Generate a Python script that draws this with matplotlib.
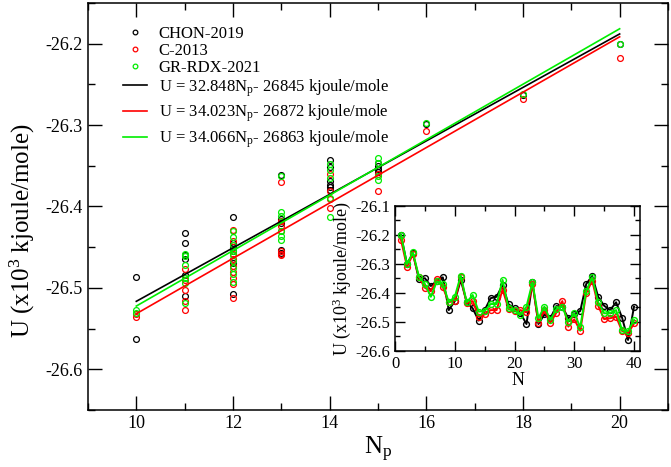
import matplotlib
matplotlib.use("Agg")
import matplotlib.pyplot as plt
from matplotlib.ticker import MultipleLocator, FormatStrFormatter

plt.rcParams["font.family"] = ["Liberation Serif", "DejaVu Serif"]
plt.rcParams["mathtext.fontset"] = "custom"
plt.rcParams["mathtext.rm"] = "Liberation Serif"
plt.rcParams["mathtext.it"] = "Liberation Serif:italic"
plt.rcParams["axes.unicode_minus"] = False

# main panel: energies (x10^3 kJ/mol) vs number of particles Np
chon_np = [10, 10, 11, 11, 11, 11, 11, 11, 12, 12, 12, 12, 12, 12,
           13, 13, 13, 13, 13, 14, 14, 14, 14, 14, 14,
           15, 15, 15, 15, 16, 18, 20]
chon_u = [-26.487, -26.563, -26.433, -26.445, -26.459, -26.464, -26.484, -26.510,
          -26.413, -26.445, -26.450, -26.455, -26.470, -26.507,
          -26.361, -26.415, -26.420, -26.453, -26.457,
          -26.343, -26.352, -26.369, -26.373, -26.376, -26.380,
          -26.346, -26.350, -26.354, -26.358, -26.299, -26.263, -26.200]

c2013_np = [10, 10, 11, 11, 11, 11, 11, 12, 12, 12, 12, 12, 12, 12, 12, 12,
            13, 13, 13, 13, 13, 13, 13, 14, 14, 14, 14, 15, 15, 16, 18, 20]
c2013_u = [-26.532, -26.536, -26.477, -26.490, -26.502, -26.516, -26.527,
           -26.429, -26.442, -26.458, -26.465, -26.473, -26.480, -26.488, -26.495, -26.512,
           -26.370, -26.418, -26.424, -26.430, -26.455, -26.458, -26.460,
           -26.360, -26.381, -26.391, -26.402, -26.360, -26.381,
           -26.307, -26.268, -26.218]

grrdx_np = [10, 10, 11, 11, 11, 11, 11, 11, 12, 12, 12, 12, 12, 12, 12, 12, 12,
            13, 13, 13, 13, 13, 13, 14, 14, 14, 14, 14, 15, 15, 15, 15, 16, 18, 20]
grrdx_u = [-26.527, -26.531, -26.458, -26.461, -26.472, -26.488, -26.494, -26.519,
           -26.430, -26.438, -26.447, -26.455, -26.460, -26.467, -26.475, -26.483, -26.493,
           -26.362, -26.407, -26.412, -26.430, -26.436, -26.441,
           -26.348, -26.355, -26.365, -26.389, -26.413,
           -26.341, -26.346, -26.362, -26.368, -26.297, -26.262, -26.200]

# linear fits U = slope*Np + intercept (kJ/mol)
fit_slope = [32.848, 34.023, 34.066]
fit_intercept = [-26845, -26872, -26863]
fit_range = [10, 20]

# inset: energy of each configuration N = 1..40
inset_n = list(range(1, 41))
inset_chon = [-26.200, -26.300, -26.263, -26.353, -26.349, -26.376, -26.358, -26.346,
              -26.459, -26.428, -26.355, -26.432, -26.453, -26.495, -26.459, -26.418,
              -26.413, -26.372, -26.439, -26.453, -26.470, -26.507, -26.363, -26.507,
              -26.474, -26.487, -26.445, -26.447, -26.487, -26.474, -26.462, -26.369,
              -26.341, -26.413, -26.444, -26.459, -26.432, -26.485, -26.562, -26.447]
inset_c2013 = [-26.217, -26.309, -26.267, -26.346, -26.382, -26.394, -26.352, -26.380,
               -26.432, -26.426, -26.345, -26.436, -26.428, -26.482, -26.474, -26.459,
               -26.459, -26.388, -26.455, -26.462, -26.459, -26.467, -26.369, -26.502,
               -26.459, -26.502, -26.468, -26.428, -26.516, -26.491, -26.530, -26.401,
               -26.357, -26.444, -26.490, -26.487, -26.482, -26.531, -26.539, -26.505]
inset_grrdx = [-26.200, -26.301, -26.260, -26.344, -26.369, -26.413, -26.360, -26.368,
               -26.432, -26.413, -26.340, -26.432, -26.407, -26.464, -26.462, -26.438,
               -26.438, -26.355, -26.453, -26.459, -26.476, -26.447, -26.363, -26.487,
               -26.447, -26.493, -26.455, -26.447, -26.499, -26.470, -26.518, -26.393,
               -26.346, -26.432, -26.470, -26.470, -26.459, -26.529, -26.531, -26.493]

labels = ["CHON-2019", "C-2013", "GR-RDX-2021"]
colors = ["black", "#ff0000", "#00ee00"]


def style_axes(ax, major, ticklen):
    ax.tick_params(which="both", direction="in", top=True, right=True,
                   labelsize=major, width=1.0)
    ax.tick_params(which="major", length=ticklen)
    ax.tick_params(which="minor", length=ticklen / 2)
    for s in ax.spines.values():
        s.set_linewidth(1.1)


fig = plt.figure(figsize=(6.71, 4.67), dpi=100)
ax = fig.add_axes([0.1311, 0.1221, 0.8644, 0.8715])

series = [(chon_np, chon_u), (c2013_np, c2013_u), (grrdx_np, grrdx_u)]
pts = []
for (xs, ys), lab, col in zip(series, labels, colors):
    p, = ax.plot(xs, ys, "o", ls="none", mfc="none", mec=col, ms=4.2, mew=0.9, label=lab)
    pts.append(p)

fits = []
for a, b, col in zip(fit_slope, fit_intercept, colors):
    xs = fit_range
    ys = [(a * x + b) / 1000.0 for x in xs]
    l, = ax.plot(xs, ys, "-", color=col, lw=1.2,
                 label=r"U = %.3fN$_{\mathrm{p}}$- %d kjoule/mole" % (a, -b))
    fits.append(l)

ax.set_xlim(9, 21)
ax.set_ylim(-26.65, -26.15)
ax.xaxis.set_major_locator(MultipleLocator(2))
ax.xaxis.set_minor_locator(MultipleLocator(1))
ax.yaxis.set_major_locator(MultipleLocator(0.1))
ax.yaxis.set_minor_locator(MultipleLocator(0.05))
ax.yaxis.set_major_formatter(FormatStrFormatter("%.1f"))
style_axes(ax, 13, 10)
ax.set_xlabel(r"N$_{\mathrm{p}}$", fontsize=18, labelpad=2)
ax.set_ylabel(r"U (x10$^{\mathrm{3}}$ kjoule/mole)", fontsize=18, labelpad=4)
ax.yaxis.set_label_coords(-0.088, 0.44)

leg1 = ax.legend(pts, labels, loc="upper left", bbox_to_anchor=(0.060, 0.943),
                 frameon=False, fontsize=12, handlelength=1.45, handletextpad=0.7,
                 labelspacing=0.05, borderaxespad=0, borderpad=0, markerscale=0.8)
ax.add_artist(leg1)
ax.legend(fits, [f.get_label() for f in fits], loc="upper left",
          bbox_to_anchor=(0.060, 0.818), frameon=False, fontsize=12,
          handlelength=1.45, handletextpad=0.7, labelspacing=0.25,
          borderaxespad=0, borderpad=0)

# inset
ins = fig.add_axes([0.5887, 0.2484, 0.3651, 0.3105])
for ys, col in zip([inset_chon, inset_c2013, inset_grrdx], colors):
    ins.plot(inset_n, ys, "-o", color=col, mfc="none", mec=col, ms=4.2,
             mew=1.0, lw=1.4)
ins.set_xlim(0, 41)
ins.set_ylim(-26.6, -26.1)
ins.xaxis.set_major_locator(MultipleLocator(10))
ins.xaxis.set_minor_locator(MultipleLocator(5))
ins.yaxis.set_major_locator(MultipleLocator(0.1))
ins.yaxis.set_minor_locator(MultipleLocator(0.05))
ins.yaxis.set_major_formatter(FormatStrFormatter("%.1f"))
style_axes(ins, 12, 7)
ins.set_xlabel("N", fontsize=13, labelpad=0)
ins.set_ylabel(r"U (x10$^{\mathrm{3}}$ kjoule/mole)", fontsize=13, labelpad=2)

fig.savefig("out.png", dpi=100)
